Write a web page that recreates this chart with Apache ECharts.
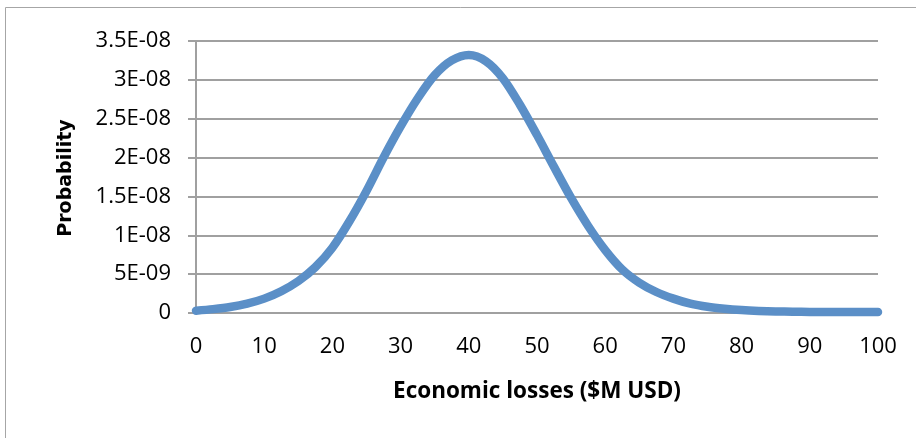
<!DOCTYPE html>
<html>
<head>
<meta charset="utf-8">
<script src="https://cdn.jsdelivr.net/npm/echarts@6/dist/echarts.min.js"></script>
<style>
html,body{margin:0;padding:0;background:#fff;}
#chart{width:916px;height:438px;}
</style>
</head>
<body>
<div id="chart"></div>
<script>
// Economic losses ($M USD)
const lossValues = [0, 2.5, 5, 7.5, 10, 12.5, 15, 17.5, 20, 22.5, 25, 27.5, 30, 32.5, 35, 37.5, 40,
  42.5, 45, 47.5, 50, 52.5, 55, 57.5, 60, 62.5, 65, 67.5, 70, 72.5, 75, 77.5, 80, 82.5, 85, 87.5, 90,
  92.5, 95, 97.5, 100];
// Probability
const probValues = [3.0e-10, 5.0e-10, 7.7e-10, 1.2e-9, 1.85e-9, 2.8e-9, 4.1e-9, 5.9e-9, 8.4e-9, 1.18e-8,
  1.57e-8, 2.0e-8, 2.4e-8, 2.76e-8, 3.06e-8, 3.25e-8, 3.32e-8, 3.24e-8, 3.02e-8, 2.68e-8, 2.29e-8,
  1.88e-8, 1.48e-8, 1.12e-8, 8.1e-9, 5.6e-9, 3.9e-9, 2.7e-9, 1.85e-9, 1.2e-9, 8.0e-10, 5.5e-10,
  3.8e-10, 2.7e-10, 2.0e-10, 1.6e-10, 1.4e-10, 1.3e-10, 1.2e-10, 1.2e-10, 1.2e-10];
const yTickLabels = ['0', '5E-09', '1E-08', '1.5E-08', '2E-08', '2.5E-08', '3E-08', '3.5E-08'];
const xTickLabels = ['0', '10', '20', '30', '40', '50', '60', '70', '80', '90', '100'];
const xTitle = 'Economic losses ($M USD)';
const yTitle = 'Probability';

const chart = echarts.init(document.getElementById('chart'), null, {renderer: 'canvas'});
const gridColor = '#a0a0a0';
const labelFont = '"Open Sans", sans-serif';

chart.setOption({
  animation: false,
  backgroundColor: '#ffffff',
  grid: {left: 196, right: 38, top: 41, bottom: 125, containLabel: false},
  xAxis: {
    type: 'value', min: 0, max: 100, interval: 10,
    axisLine: {show: true, lineStyle: {color: gridColor, width: 2}},
    axisTick: {show: false},
    splitLine: {show: false},
    axisLabel: {
      margin: 23, color: '#000', fontSize: 22, fontFamily: labelFont,
      formatter: function (v) { return xTickLabels[Math.round(v / 10)]; }
    }
  },
  yAxis: {
    type: 'value', min: 0, max: 3.5e-8, interval: 5e-9,
    axisLine: {show: true, lineStyle: {color: gridColor, width: 2}},
    axisTick: {show: true, length: 8, lineStyle: {color: gridColor, width: 2}},
    splitLine: {show: true, lineStyle: {color: gridColor, width: 2}},
    axisLabel: {
      margin: 25, color: '#000', fontSize: 22, fontFamily: labelFont,
      formatter: function (v) { return yTickLabels[Math.round(v / 5e-9)]; }
    }
  },
  series: [{
    type: 'line',
    data: lossValues.map((x, i) => [x, probValues[i]]),
    smooth: 0.3,
    showSymbol: false,
    symbol: 'none',
    lineStyle: {color: '#5b8fc7', width: 8.5, cap: 'round', join: 'round'},
    z: 3
  }],
  graphic: [
    {type: 'line', shape: {x1: 5.5, y1: 7.5, x2: 916, y2: 7.5}, style: {stroke: '#a6a6a6', lineWidth: 1}, silent: true},
    {type: 'line', shape: {x1: 5.5, y1: 7.5, x2: 5.5, y2: 438}, style: {stroke: '#a6a6a6', lineWidth: 1}, silent: true},
    {type: 'text', x: 537, y: 392, style: {text: xTitle, fill: '#000', font: 'bold 22.5px "Open Sans", sans-serif', textAlign: 'center', textVerticalAlign: 'middle'}},
    {type: 'text', x: 66, y: 178, rotation: Math.PI / 2, style: {text: yTitle, fill: '#000', font: 'bold 19px "DejaVu Sans", sans-serif', textAlign: 'center', textVerticalAlign: 'middle'}}
  ]
});
</script>
</body>
</html>
